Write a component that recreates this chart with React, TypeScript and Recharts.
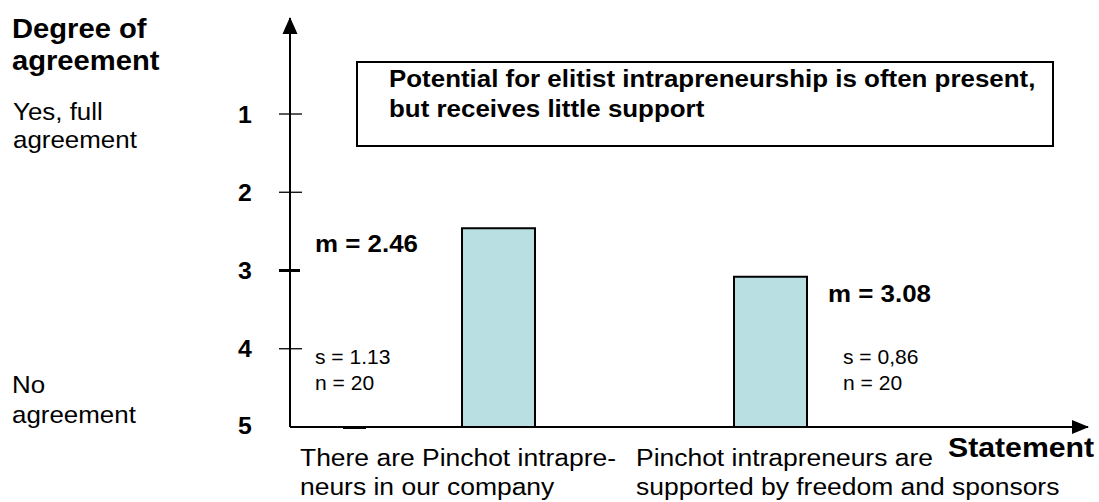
import React from "react";
import { BarChart, Bar, XAxis, YAxis, LabelList } from "recharts";

// Survey results (scale 1 = full agreement ... 5 = no agreement)
const statements = [
  "There are Pinchot intrapreneurs in our company",
  "Pinchot intrapreneurs are supported by freedom and sponsors",
];
const statementLines = [
  ["There are Pinchot intrapre-", "neurs in our company"],
  ["Pinchot intrapreneurs are", "supported by freedom and sponsors"],
];
const means = [2.46, 3.08];
const stdDevs = ["1.13", "0,86"];
const counts = [20, 20];
const scaleTicks = [1, 2, 3, 4, 5];
const scaleBottom = 5;

const data = statements.map((statement, i) => ({
  statement,
  mean: means[i],
  range: [scaleBottom, means[i]],
}));

const FONT = '"Liberation Sans", Arial, Helvetica, sans-serif';
const SX = 1.08; // source picture is slightly stretched horizontally

type TProps = {
  x: number;
  y: number;
  size: number;
  bold?: boolean;
  anchor?: "start" | "middle" | "end";
  children: React.ReactNode;
};

const T = ({ x, y, size, bold, anchor = "start", children }: TProps) => (
  <text
    transform={`translate(${x} ${y}) scale(${SX} 1)`}
    textAnchor={anchor}
    fill="#000"
    style={{ fontFamily: FONT, fontSize: size, fontWeight: bold ? 700 : 400 }}
  >
    {children}
  </text>
);

const ScaleTick = (props: any) => {
  const { x, y, payload } = props;
  const v = payload.value;
  return (
    <g>
      {v === 3 ? (
        <line x1={x - 11} x2={x + 10} y1={y} y2={y} stroke="#000" strokeWidth={3} />
      ) : v !== 5 ? (
        <line x1={x - 11} x2={x + 12} y1={y} y2={y} stroke="#000" strokeWidth={1.3} />
      ) : (
        <line x1={x + 53} x2={x + 76} y1={y + 1} y2={y + 1} stroke="#000" strokeWidth={2} />
      )}
      <T x={x - 45} y={v === 5 ? y + 7 : y + 8.5} size={23} bold anchor="middle">
        {String(v)}
      </T>
    </g>
  );
};

const StatementTick = (props: any) => {
  const { x, y, index } = props;
  const lines = statementLines[index] ?? [];
  const left = index === 0 ? x - 198 : x - 134;
  return (
    <g>
      {lines.map((line, i) => (
        <T key={i} x={left} y={y + 39 + i * 29} size={24.5}>
          {line}
        </T>
      ))}
    </g>
  );
};

const StatLabel = (props: any) => {
  const vb = props.viewBox ?? props;
  const x = Number(vb.x ?? props.x);
  const y = Number(vb.y ?? props.y);
  const w = Number(vb.width ?? props.width);
  const h = Number(vb.height ?? props.height);
  const index = props.index ?? 0;
  const top = Math.min(y, y + h);
  const bottom = Math.max(y, y + h);
  const onLeft = index === 0;
  const mx = onLeft ? x - 147 : x + w + 21;
  const sx = onLeft ? x - 147 : x + w + 36;
  return (
    <g>
      <T x={mx} y={top + (onLeft ? 24 : 25)} size={24} bold>
        {`m = ${means[index].toFixed(2)}`}
      </T>
      <T x={sx} y={bottom - 63} size={19.5}>
        {`s = ${stdDevs[index]}`}
      </T>
      <T x={sx} y={bottom - 37} size={19.5}>
        {`n = ${counts[index]}`}
      </T>
    </g>
  );
};

export default function App() {
  return (
    <div style={{ position: "absolute", left: 0, top: 0, width: 1099, height: 502, background: "#fff" }}>
      <BarChart
        width={1099}
        height={502}
        data={data}
        margin={{ top: 18, right: 11, bottom: 0, left: 230 }}
      >
        <XAxis
          dataKey="statement"
          type="category"
          height={75}
          padding={{ left: 72, right: 182 }}
          axisLine={{ stroke: "#000", strokeWidth: 2 }}
          tickLine={false}
          tickSize={0}
          tickMargin={0}
          tick={<StatementTick />}
          interval={0}
        />
        <YAxis
          type="number"
          width={60}
          reversed
          domain={[-0.227, 5]}
          allowDataOverflow
          ticks={scaleTicks}
          axisLine={{ stroke: "#000", strokeWidth: 2 }}
          tickLine={false}
          tickSize={0}
          tickMargin={0}
          tick={<ScaleTick />}
          interval={0}
        />
        <Bar
          dataKey="range"
          fill="#B9DFE2"
          stroke="#000"
          strokeWidth={2}
          barSize={73}
          isAnimationActive={false}
        >
          <LabelList dataKey="mean" content={<StatLabel />} />
        </Bar>
      </BarChart>
      <svg
        width={1099}
        height={502}
        style={{ position: "absolute", left: 0, top: 0, pointerEvents: "none" }}
      >
        {/* axis arrow heads */}
        <polygon points="290,17 282.5,34 297.5,34" fill="#000" />
        <polygon points="1089,427 1072,420 1072,434" fill="#000" />

        <T x={12} y={38} size={27} bold>Degree of</T>
        <T x={12} y={70} size={27} bold>agreement</T>
        <T x={13} y={120} size={24}>Yes, full</T>
        <T x={13} y={148} size={24}>agreement</T>
        <T x={12} y={393} size={24}>No</T>
        <T x={12} y={423} size={24}>agreement</T>

        <rect x={357} y={62} width={696} height={84} fill="none" stroke="#000" strokeWidth={2} />
        <T x={389} y={87} size={24} bold>Potential for elitist intrapreneurship is often present,</T>
        <T x={389} y={117} size={24} bold>but receives little support</T>

        <T x={948} y={457} size={28} bold>Statement</T>
      </svg>
    </div>
  );
}
